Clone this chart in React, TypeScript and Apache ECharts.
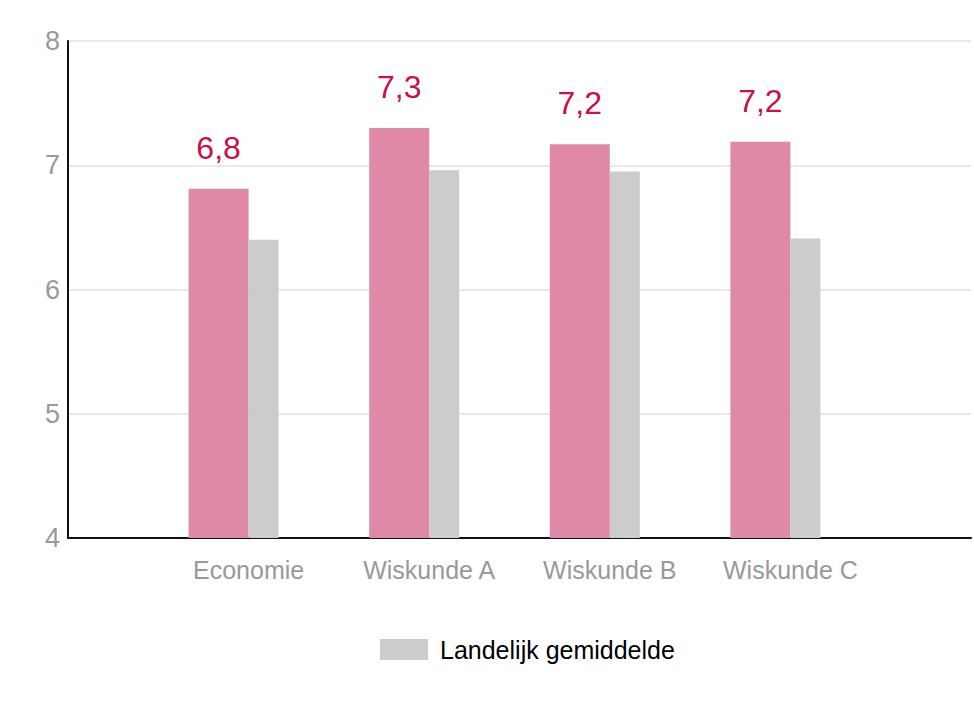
import React, { useEffect, useRef } from "react";
import * as echarts from "echarts";

const categories = ["", "Economie", "Wiskunde A", "Wiskunde B", "Wiskunde C", ""];
const schoolValues = [null, 6.81, 7.3, 7.17, 7.19, null];
const nationalValues = [null, 6.4, 6.96, 6.95, 6.41, null];
const yTicks = { min: 4, max: 8, interval: 1 };

const FONT = "'Liberation Sans', Arial, sans-serif";

export default function App() {
  const ref = useRef<HTMLDivElement>(null);
  useEffect(() => {
    if (!ref.current) return;
    const chart = echarts.init(ref.current, null, { renderer: "svg" });
    chart.setOption({
      animation: false,
      textStyle: { fontFamily: FONT },
      grid: { left: 68, right: 1, top: 41, bottom: 171, containLabel: false },
      legend: {
        data: ["Landelijk gemiddelde"],
        bottom: 47,
        left: 380,
        padding: 0,
        itemWidth: 48,
        itemHeight: 21,
        itemGap: 12,
        textStyle: { color: "#000", fontSize: 25, fontFamily: FONT, padding: [0, 0, 0, 7] },
        icon: "rect",
      },
      xAxis: {
        type: "category",
        data: categories,
        boundaryGap: false,
        axisLine: { show: true, lineStyle: { color: "#111", width: 2 } },
        axisTick: { show: false },
        splitLine: { show: false },
        axisLabel: { color: "#999999", fontSize: 25, margin: 19, interval: 0, fontFamily: FONT },
      },
      yAxis: {
        type: "value",
        min: yTicks.min,
        max: yTicks.max,
        interval: yTicks.interval,
        axisLine: { show: true, lineStyle: { color: "#111", width: 2 } },
        axisTick: { show: false },
        splitLine: { show: true, lineStyle: { color: "#e8e8e8", width: 2 } },
        axisLabel: { color: "#999999", fontSize: 27, margin: 8, fontFamily: FONT },
      },
      series: [
        {
          name: "School",
          type: "bar",
          data: schoolValues,
          barWidth: 60,
          barGap: "0%",
          itemStyle: { color: "#e088a8" },
          label: {
            show: true,
            position: "top",
            distance: 25,
            color: "#c8104c",
            fontSize: 32,
            fontFamily: FONT,
            formatter: (p: any) => (p.value == null ? "" : Number(p.value).toFixed(1).replace(".", ",")),
          },
        },
        {
          name: "Landelijk gemiddelde",
          type: "bar",
          data: nationalValues,
          barWidth: 30,
          barGap: "0%",
          itemStyle: { color: "#cccccc" },
        },
        {
          name: "spacer",
          type: "bar",
          data: categories.map(() => null),
          barWidth: 30,
          barGap: "0%",
          itemStyle: { color: "transparent" },
          silent: true,
        },
      ],
    });
    return () => chart.dispose();
  }, []);
  return <div ref={ref} style={{ width: 974, height: 709, position: "absolute", left: 0, top: 0 }} />;
}
